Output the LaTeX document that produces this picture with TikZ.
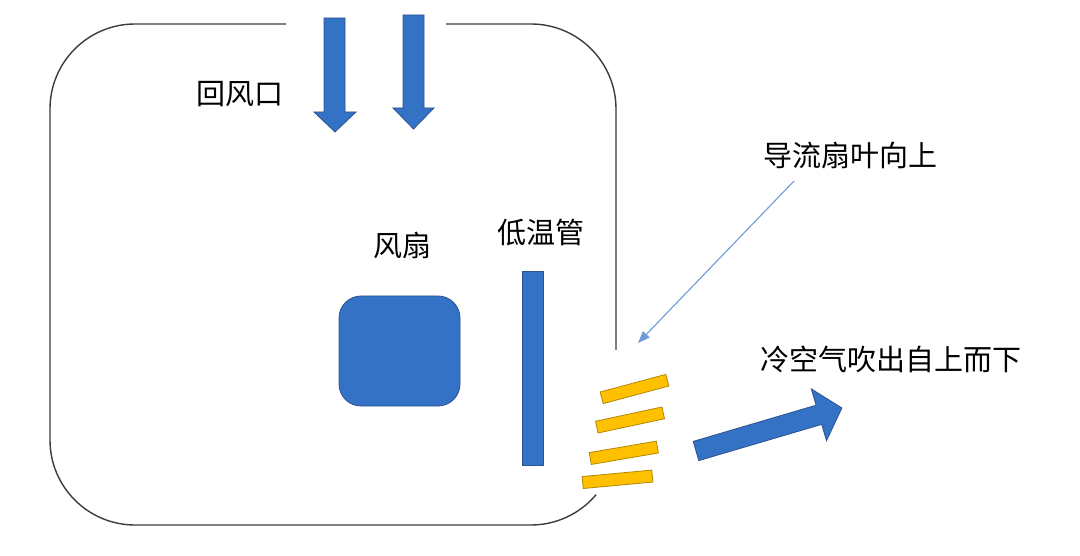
\documentclass[tikz,border=0pt]{standalone}
\usepackage{fontspec}
\setmainfont{Noto Sans CJK SC}
\usetikzlibrary{arrows.meta}
\definecolor{boxblue}{RGB}{52,114,198}
\definecolor{boxedge}{RGB}{47,82,143}
\definecolor{louver}{RGB}{255,192,0}
\definecolor{louveredge}{RGB}{180,135,0}
\definecolor{pointer}{RGB}{110,155,215}
\definecolor{casingcol}{RGB}{60,60,60}
\begin{document}
\begin{tikzpicture}[x=1pt,y=1pt,
  lbl/.style={font=\fontsize{29}{29}\selectfont, inner sep=0pt, text=black},
  bluefill/.style={fill=boxblue, draw=boxedge, line width=0.8pt},
  vane/.style={fill=louver, draw=louveredge, line width=0.8pt, minimum width=68pt, minimum height=12pt, inner sep=0pt, outer sep=0pt},
  casing/.style={draw=casingcol, line width=1.4pt},
]
\fill[white] (0,0) rectangle (1080,-556);
\useasboundingbox (0,0) rectangle (1080,-556);

% casing outline
\draw[casing] (286,-24) -- (135,-24) arc[start angle=90, end angle=180, radius=85]
  -- (50,-440) arc[start angle=180, end angle=270, radius=85]
  -- (531,-525) arc[start angle=270, end angle=320, radius=85];
\draw[casing] (446,-24) -- (531,-24) arc[start angle=90, end angle=0, radius=85]
  -- (616,-350);

% return-air arrows
\draw[bluefill] (324,-18) -- (345,-18) -- (345,-112) -- (356,-112) -- (335,-132)
  -- (314,-112) -- (324,-112) -- cycle;
\draw[bluefill] (403,-15) -- (424,-15) -- (424,-108) -- (434,-108) -- (413.5,-129)
  -- (393,-108) -- (403,-108) -- cycle;

% fan
\node[bluefill, rounded corners=22pt, minimum width=121pt, minimum height=110pt, inner sep=0pt]
  (fan) at (399.5,-351) {};
% low-temperature pipe
\node[bluefill, minimum width=21pt, minimum height=194pt, inner sep=0pt] (pipe) at (532.5,-368) {};

% louvers
\node[vane, rotate=15]   (v1) at (634.5,-389) {};
\node[vane, rotate=12.1] (v2) at (630,-420) {};
\node[vane, rotate=9.7]  (v3) at (623.8,-452.8) {};
\node[vane, rotate=5.3, minimum width=70pt]  (v4) at (617.5,-479.3) {};

% outflow arrow
\draw[bluefill] (693.2,-441.4) -- (816.1,-405.2) -- (811.3,-388.9) -- (841.9,-408)
  -- (826.5,-440.7) -- (821.7,-424.4) -- (698.8,-460.6) -- cycle;

% labels
\node[lbl] (huifeng) at (240,-94.5) {回风口};
\node[lbl] (fanlbl) at (402,-245) {风扇};
\node[lbl] (pipelbl) at (541,-232) {低温管};
\node[lbl] (vanelbl) at (850,-155) {导流扇叶向上};
\node[lbl] (outlbl) at (891,-359.5) {冷空气吹出自上而下};

% pointer
\coordinate (ptrstart) at (794,-181);
\coordinate (ptrend) at (638,-343);
\draw[pointer, line width=1.1pt, -{Triangle[length=12pt, width=9pt]}] (ptrstart) -- (ptrend);
\end{tikzpicture}
\end{document}
